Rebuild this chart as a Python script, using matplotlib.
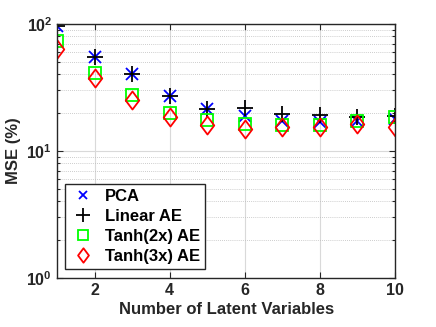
import numpy as np
import matplotlib
matplotlib.use('Agg')
import matplotlib.pyplot as plt
from matplotlib.path import Path
from matplotlib.ticker import LogLocator, NullFormatter

plt.rcParams['font.family'] = ['Liberation Sans', 'DejaVu Sans']
plt.rcParams['font.weight'] = 'bold'
plt.rcParams['mathtext.fontset'] = 'custom'
plt.rcParams['mathtext.rm'] = 'Liberation Sans:bold'
plt.rcParams['mathtext.it'] = 'Liberation Sans:bold'
plt.rcParams['mathtext.bf'] = 'Liberation Sans:bold'

n_latent = [1, 2, 3, 4, 5, 6, 7, 8, 9, 10]
mse_pca = [96, 55, 40, 27, 21.5, 18.9, 17.2, 16.9, 17.2, 17.9]
mse_linear = [96, 55, 40, 27, 21.5, 21.8, 19.6, 19.2, 18.5, 18.9]
mse_tanh2 = [73, 41, 27.6, 20, 17.5, 16.3, 16.0, 16.0, 17.2, 18.5]
mse_tanh3 = [63, 37.6, 25, 18.5, 16, 14.9, 15.5, 15.5, 16.2, 15.5]

# MATLAB-style diamond: a bit taller than wide
diamond = Path([(0, 1), (0.75, 0), (0, -1), (-0.75, 0), (0, 1)],
               [Path.MOVETO, Path.LINETO, Path.LINETO, Path.LINETO, Path.CLOSEPOLY])

fig = plt.figure(figsize=(4.36, 3.27), dpi=100)
ax = fig.add_axes([0.131, 0.15, 0.775, 0.777])

ax.semilogy(n_latent, mse_pca, 'x', color='#0000ff', ms=8, mew=1.3, label='PCA')
ax.semilogy(n_latent, mse_linear, '+', color='k', ms=12, mew=1.3, label='Linear AE')
ax.semilogy(n_latent, mse_tanh2, 's', color='#00ff00', mfc='none', ms=8.5, mew=1.3,
            label='Tanh(2x) AE')
ax.semilogy(n_latent, mse_tanh3, marker=diamond, ls='none', color='#ff0000', mfc='none',
            ms=13, mew=1.3, label='Tanh(3x) AE')

ax.set_xlim(1, 10)
ax.set_ylim(1, 100)
ax.set_xticks([2, 4, 6, 8, 10])
ax.yaxis.set_major_locator(LogLocator(base=10, numticks=5))
ax.yaxis.set_minor_locator(LogLocator(base=10, subs=np.arange(2, 10), numticks=10))
ax.yaxis.set_minor_formatter(NullFormatter())

ax.grid(True, which='major', color='#d9d9d9', lw=0.8, ls='-')
ax.grid(True, which='minor', axis='y', color='#bdbdbd', lw=0.6, ls=(0, (1, 1.5)))
ax.set_axisbelow(True)
ax.tick_params(which='both', direction='in', top=True, right=True, labelsize=11.5,
               width=0.8, colors='#262626')
ax.tick_params(which='major', length=4)
ax.tick_params(which='minor', length=2.5)
for s in ax.spines.values():
    s.set_linewidth(1.0)
    s.set_color('#262626')

ax.set_xlabel('Number of Latent Variables', fontsize=12, fontweight='bold',
              color='#262626', labelpad=3)
ax.set_ylabel('MSE (%)', fontsize=12, fontweight='bold', color='#262626')

leg = ax.legend(loc='lower left', bbox_to_anchor=(0.022, 0.035), fontsize=12,
                frameon=True, fancybox=False, edgecolor='#262626', framealpha=1,
                markerscale=0.8, handletextpad=0.5, borderpad=0.3,
                labelspacing=0.3, handlelength=1.6, borderaxespad=0)
leg.get_frame().set_linewidth(1.0)

fig.savefig('out.png', dpi=100)
